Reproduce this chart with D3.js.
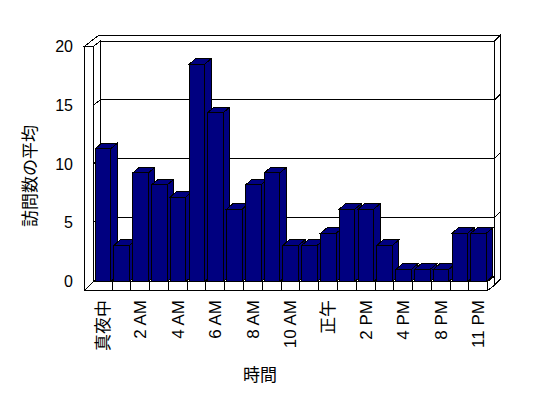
<!DOCTYPE html>
<html>
<head>
<meta charset="utf-8">
<script src="https://cdn.jsdelivr.net/npm/d3@7"></script>
<style>
  body { margin: 0; background: #fff; }
  svg { display: block; }
  text { font-family: "Liberation Sans", "Noto Sans CJK JP", sans-serif; fill: #000; }
</style>
</head>
<body>
<div id="chart"></div>
<script>
// data
const hours = ["真夜中", "1 AM", "2 AM", "3 AM", "4 AM", "5 AM", "6 AM", "7 AM", "8 AM", "9 AM",
  "10 AM", "11 AM", "正午", "1 PM", "2 PM", "3 PM", "4 PM", "6 PM", "8 PM", "10 PM", "11 PM"];
const visits = [11, 3, 9, 8, 7, 18, 14, 6, 8, 9, 3, 3, 4, 6, 6, 3, 1, 1, 1, 4, 4];
const yTicks = [0, 5, 10, 15, 20];
const shownLabels = ["真夜中", "2 AM", "4 AM", "6 AM", "8 AM", "10 AM", "正午", "2 PM", "4 PM", "8 PM", "11 PM"];
const yTitle = "訪問数の平均";
const xTitle = "時間";

const width = 548, height = 398;
const navy = "#000080";

// frame geometry (3d box)
const X0 = 93.3, X1 = 487.7;   // floor inner-front x range
const slab = 9;                // wall / floor thickness
const dX = 7, dY = 5.5;        // depth offset to back wall face
const bdX = 6.5, bdY = 5.5;    // bar depth offset

const x = d3.scaleBand().domain(hours).range([X0, X1]).paddingInner(0).paddingOuter(0);
const yAxis = d3.scaleLinear().domain([0, 20]).range([281.5, 46.5]);
const yBar = d3.scaleLinear().domain([0, 20]).range([281.5, 40.1]);
const yBack = v => yAxis(v) - dY;

const floorY = yAxis(0);
const svg = d3.select("#chart").append("svg")
  .attr("width", width).attr("height", height)
  .style("shape-rendering", "crispEdges");

const line = d3.line();
const poly = (pts) => svg.append("path").attr("d", line(pts) + "Z")
  .attr("fill", "#fff").attr("stroke", "#000").attr("stroke-width", 1);

const topY = yAxis(20);
// back wall: top face, right side, front face
poly([[X0 - slab, topY], [X0, topY], [X0 + dX, yBack(20)], [X1 + dX, yBack(20)],
  [X1 + dX + 6, yBack(20) - 6], [X0 - slab + 14.7, yBack(20) - 6]]);
poly([[X1 + dX, yBack(20)], [X1 + dX + 6, yBack(20) - 6], [X1 + dX + 6, yBack(0) + slab - 6], [X1 + dX, yBack(0) + slab]]);
poly([[X0 + dX, yBack(20)], [X1 + dX, yBack(20)], [X1 + dX, yBack(0)], [X0 + dX, yBack(0)]]);
// left wall inner face
poly([[X0, topY], [X0 + dX, yBack(20)], [X0 + dX, yBack(0)], [X0, floorY]]);

// gridlines
const grid = svg.append("g").attr("stroke", "#000").attr("fill", "none");
yTicks.filter(v => v > 0 && v < 20).forEach(v => {
  grid.append("path").attr("d", line([[X0 - slab, yAxis(v)], [X0, yAxis(v)], [X0 + dX, yBack(v)],
    [X1 + dX, yBack(v)], [X1 + dX + 6, yBack(v) - 6]]));
});

// floor: top, right side, front face
poly([[X0, floorY], [X1, floorY], [X1 + dX, yBack(0)], [X0 + dX, yBack(0)]]);
poly([[X1, floorY], [X1 + dX, yBack(0)], [X1 + dX, yBack(0) + slab], [X1, floorY + slab]]);
poly([[X0 - slab, floorY], [X1, floorY], [X1, floorY + slab], [X0 - slab, floorY + slab]]);
// left wall front face
poly([[X0 - slab, topY], [X0, topY], [X0, floorY], [X0 - slab, floorY + slab]]);
svg.append("path").attr("d", line([[X0 - slab, floorY + slab], [X0 - slab, topY]])).attr("stroke", "#000");
// category dividers on floor front
svg.append("g").selectAll("line").data(hours.slice(1)).join("line")
  .attr("x1", d => x(d)).attr("x2", d => x(d))
  .attr("y1", floorY).attr("y2", floorY + slab)
  .attr("stroke", "#000");

// bars
const bw = x.bandwidth();
const bars = svg.append("g").attr("fill", navy).attr("stroke", "#000");
hours.forEach((h, i) => {
  const v = visits[i];
  const x0 = x(h) + bw * 0.1, x1 = x0 + bw * 0.83;
  const yt = yBar(v), yb = yBar(0);
  bars.append("path").attr("d", line([[x1, yt], [x1 + bdX, yt - bdY], [x1 + bdX, yb - bdY], [x1, yb]]) + "Z");
  bars.append("path").attr("d", line([[x0, yt], [x0 + bdX, yt - bdY], [x1 + bdX, yt - bdY], [x1, yt]]) + "Z");
  bars.append("path").attr("d", line([[x0, yt], [x1, yt], [x1, yb], [x0, yb]]) + "Z");
});

// y tick labels
svg.append("g").selectAll("text").data(yTicks).join("text")
  .attr("x", 73).attr("y", d => yAxis(d)).attr("dy", "0.35em")
  .attr("text-anchor", "end").style("font-size", "16px")
  .text(d => d);

// x tick labels
svg.append("g").selectAll("text").data(shownLabels).join("text")
  .attr("transform", d => `translate(${x(d) + bw / 2},300) rotate(-90)`)
  .attr("dy", "0.35em").attr("text-anchor", "end").style("font-size", "17px")
  .text(d => d);

// titles
svg.append("text").attr("transform", "translate(30,176) rotate(-90)")
  .attr("text-anchor", "middle").attr("dy", "0.35em").style("font-size", "17px").text(yTitle);
svg.append("text").attr("x", 260).attr("y", 375).attr("dy", "0.35em")
  .attr("text-anchor", "middle").style("font-size", "17px").text(xTitle);
</script>
</body>
</html>
